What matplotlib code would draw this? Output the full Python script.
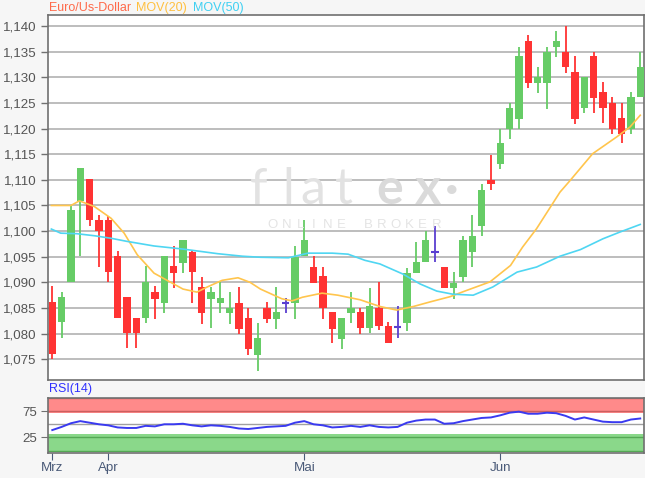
import matplotlib
matplotlib.use('Agg')
import matplotlib.pyplot as plt
import numpy as np

plt.rcParams['font.family'] = ['Liberation Sans', 'DejaVu Sans']

# ---------------- data ----------------
opens = [1.0861, 1.0822, 1.0901, 1.1058, 1.1101, 1.1022, 1.1022, 1.0952, 1.0871, 1.0831,
         1.0830, 1.0882, 1.0859, 1.0931, 1.0938, 1.0959, 1.0891, 1.0868, 1.0859, 1.0840,
         1.0860, 1.0830, 1.0759, 1.0850, 1.0829, 1.0860, 1.0860, 1.0951, 1.0930, 1.0912,
         1.0842, 1.0790, 1.0841, 1.0843, 1.0811, 1.0850, 1.0814, 1.0813, 1.0820, 1.0919,
         1.0939, 1.0959, 1.0930, 1.0889, 1.0910, 1.0960, 1.1009, 1.1100, 1.1130, 1.1200,
         1.1218, 1.1371, 1.1289, 1.1289, 1.1360, 1.1350, 1.1311, 1.1240, 1.1341, 1.1272,
         1.1250, 1.1220, 1.1200, 1.1261]
highs = [1.0893, 1.0882, 1.1050, 1.1123, 1.1101, 1.1032, 1.1030, 1.0961, 1.0871, 1.0831,
         1.0932, 1.0892, 1.0951, 1.0970, 1.0982, 1.0964, 1.0911, 1.0891, 1.0900, 1.0881,
         1.0891, 1.0850, 1.0820, 1.0862, 1.0891, 1.0870, 1.0970, 1.1022, 1.0951, 1.0930,
         1.0842, 1.0830, 1.0881, 1.0850, 1.0890, 1.0901, 1.0823, 1.0853, 1.0929, 1.0978,
         1.1001, 1.1009, 1.0930, 1.0920, 1.0991, 1.1031, 1.1091, 1.1149, 1.1200, 1.1250,
         1.1360, 1.1382, 1.1321, 1.1360, 1.1390, 1.1400, 1.1341, 1.1301, 1.1350, 1.1291,
         1.1262, 1.1249, 1.1272, 1.1350]
lows = [1.0750, 1.0791, 1.0901, 1.0952, 1.1010, 1.0930, 1.0900, 1.0830, 1.0772, 1.0772,
        1.0820, 1.0829, 1.0840, 1.0889, 1.0919, 1.0859, 1.0819, 1.0811, 1.0840, 1.0819,
        1.0800, 1.0758, 1.0728, 1.0820, 1.0810, 1.0841, 1.0829, 1.0951, 1.0899, 1.0829,
        1.0781, 1.0771, 1.0821, 1.0800, 1.0801, 1.0808, 1.0781, 1.0791, 1.0805, 1.0919,
        1.0939, 1.0939, 1.0890, 1.0867, 1.0900, 1.0930, 1.0990, 1.1080, 1.1122, 1.1179,
        1.1200, 1.1279, 1.1270, 1.1239, 1.1340, 1.1309, 1.1208, 1.1231, 1.1231, 1.1210,
        1.1190, 1.1171, 1.1190, 1.1261]
closes = [1.0760, 1.0871, 1.1041, 1.1123, 1.1021, 1.1001, 1.0921, 1.0830, 1.0801, 1.0801,
          1.0900, 1.0868, 1.0951, 1.0919, 1.0982, 1.0920, 1.0840, 1.0881, 1.0870, 1.0850,
          1.0809, 1.0771, 1.0791, 1.0829, 1.0842, 1.0860, 1.0949, 1.0982, 1.0899, 1.0851,
          1.0810, 1.0830, 1.0851, 1.0811, 1.0853, 1.0814, 1.0781, 1.0813, 1.0919, 1.0939,
          1.0982, 1.0959, 1.0890, 1.0898, 1.0982, 1.0991, 1.1080, 1.1091, 1.1171, 1.1241,
          1.1341, 1.1289, 1.1301, 1.1350, 1.1371, 1.1321, 1.1218, 1.1301, 1.1260, 1.1240,
          1.1200, 1.1190, 1.1262, 1.1321]

ma20_x = [-0.1, 2.0, 2.9, 4.5, 6.3, 7.7, 9.1, 10.9, 12.3, 14.0, 15.5, 16.6, 18.2, 19.9,
          21.2, 22.3, 24.6, 25.7, 26.8, 28.9, 30.6, 33.0, 35.1, 36.9, 38.7, 40.5, 42.6,
          44.2, 46.9, 49.1, 50.4, 51.9, 54.4, 55.5, 57.9, 60.5, 61.9, 63.0]
ma20_y = [1.1050, 1.1050, 1.1059, 1.1048, 1.1025, 1.0996, 1.0954, 1.0918, 1.0904, 1.0887,
          1.0881, 1.0891, 1.0904, 1.0909, 1.0900, 1.0887, 1.0868, 1.0864, 1.0871, 1.0879,
          1.0875, 1.0866, 1.0853, 1.0846, 1.0853, 1.0862, 1.0872, 1.0883, 1.0901, 1.0933,
          1.0969, 1.1005, 1.1076, 1.1099, 1.1151, 1.1184, 1.1203, 1.1226]

ma50_x = [-0.1, 0.9, 2.6, 4.5, 6.3, 8.0, 10.9, 14.0, 17.7, 20.4, 22.3, 25.3, 27.4, 30.0,
          31.7, 33.5, 35.1, 37.6, 39.4, 41.2, 42.9, 45.1, 47.2, 49.8, 51.9, 54.4, 56.6,
          59.0, 60.8, 63.0]
ma50_y = [1.1004, 1.0996, 1.0995, 1.0991, 1.0986, 1.0980, 1.0971, 1.0965, 1.0956, 1.0951,
          1.0949, 1.0948, 1.0957, 1.0957, 1.0955, 1.0943, 1.0936, 1.0916, 1.0897, 1.0883,
          1.0877, 1.0875, 1.0891, 1.0920, 1.0930, 1.0951, 1.0964, 1.0985, 1.0998, 1.1013]

rsi = [39, 45, 52, 56, 53, 50, 48, 44, 43, 43, 47, 46, 50, 50, 51, 48, 46, 48, 47, 45,
       42, 41, 43, 45, 46, 47, 53, 56, 50, 48, 44, 45, 47, 45, 48, 45, 44, 45, 53, 57,
       59, 59, 51, 52, 56, 59, 62, 63, 67, 72, 74, 70, 70, 72, 71, 66, 59, 63, 59, 55,
       54, 54, 59, 61]

month_pos = [0, 6, 27, 48]
month_labels = ['Mrz', 'Apr', 'Mai', 'Jun']
price_ticks = [1.075, 1.080, 1.085, 1.090, 1.095, 1.100, 1.105, 1.110, 1.115,
               1.120, 1.125, 1.130, 1.135, 1.140]

# ---------------- figure ----------------
W, H = 645, 478
fig = plt.figure(figsize=(W / 100, H / 100), dpi=100, facecolor='#f6f6f6')
ax = fig.add_axes([48 / W, 1 - 380 / H, 595.5 / W, 365 / H])
rx = fig.add_axes([48 / W, 1 - 452.7 / H, 595.5 / W, 55 / H])

GREEN = '#66cc66'
RED = '#ff3333'
BLUE = '#5a3fd0'
GRID = '#ababab'
SPINE = '#707070'
LABEL = '#555555'

o = np.array(opens); h = np.array(highs); l = np.array(lows); c = np.array(closes)
x = np.arange(len(o))
cols = np.where(c > o, GREEN, np.where(c < o, RED, BLUE))

ax.set_facecolor('white')
for v in price_ticks:
    ax.axhline(v, color=GRID, lw=1.1, zorder=1)

# watermark (figure pixel positions)
wm_letters = ['f', 'l', 'a', 't', 'e', 'x', '\u00b7']
wm_px = [259, 288, 313, 344, 390, 428, 452]
wm_col = ['#e2e2e2', '#e2e2e2', '#e2e2e2', '#e2e2e2', '#dadada', '#dadada', '#dadada']
wm_wt = ['normal', 'normal', 'normal', 'normal', 'bold', 'bold', 'bold']
for ch, px, cl, wt in zip(wm_letters, wm_px, wm_col, wm_wt):
    fig.text(px / W, 1 - 204 / H, ch, ha='center', va='baseline', fontsize=36,
             color=cl, fontweight=wt, family=['Lato', 'DejaVu Sans'], zorder=0.5)
sub = 'ONLINE BROKER'
for i, ch in enumerate(sub):
    if ch != ' ':
        fig.text((273 + i * 13.6) / W, 1 - 225 / H, ch, ha='center', va='center',
                 fontsize=9.5, color='#e4e4e4', zorder=0.5)

ax.vlines(x, l, h, colors=cols, lw=1.3, zorder=3)
nd = c != o
ax.bar(x[nd], np.abs(c - o)[nd], bottom=np.minimum(o, c)[nd], width=0.78,
       color=cols[nd], zorder=4, linewidth=0)
dj = ~nd
ax.hlines(c[dj], x[dj] - 0.39, x[dj] + 0.39, colors=BLUE, lw=1.5, zorder=4)

ax.plot(ma20_x, ma20_y, color='#ffc54d', lw=1.2, zorder=5)
ax.plot(ma50_x, ma50_y, color='#4fd6f2', lw=1.2, zorder=5)

ax.set_xlim(-0.46, 63.35)
ax.set_ylim(1.07096, 1.14215)
ax.set_yticks(price_ticks)
ax.set_yticklabels([f'{v:.3f}'.replace('.', ',') for v in price_ticks])
ax.set_xticks([])
ax.tick_params(axis='y', length=5, width=1, color=SPINE, labelcolor=LABEL, labelsize=9.6, pad=3)
for s in ax.spines.values():
    s.set_color(SPINE)
    s.set_linewidth(1.2)

# title texts
fig.text(49 / W, 1 - 8 / H, 'Euro/Us-Dollar', color='#ff6a4a', fontsize=9, va='center', ha='left')
fig.text(136 / W, 1 - 8 / H, 'MOV(20)', color='#ffc040', fontsize=9, va='center', ha='left')
fig.text(193 / W, 1 - 8 / H, 'MOV(50)', color='#40d0f2', fontsize=9, va='center', ha='left')

# ---------------- RSI panel ----------------
rx.set_facecolor('white')
rx.axhspan(71, 100, color='#ff8a8a', zorder=1, lw=0)
rx.axhspan(0, 31, color='#8ad88a', zorder=1, lw=0)
rx.axhline(100, color='#cc5f5f', lw=1.0, zorder=2)
rx.axhline(75, color='#cc5f5f', lw=1.0, zorder=2)
rx.axhline(25, color='#55a855', lw=1.0, zorder=2)
rx.axhline(0, color='#55a855', lw=1.0, zorder=2)
rx.axhline(50, color='#a0a0a0', lw=1.0, zorder=2)
rx.plot(x, rsi, color='#3a3af0', lw=1.4, zorder=3)
rx.set_xlim(-0.46, 63.35)
rx.set_ylim(-4, 100.5)
rx.set_yticks([25, 75])
rx.set_yticklabels(['25', '75'])
rx.set_xticks(month_pos)
rx.set_xticklabels(month_labels)
rx.tick_params(axis='y', length=5, color=SPINE, labelcolor=LABEL, labelsize=9.6, pad=3)
rx.tick_params(axis='x', length=5, color='#4a5a78', labelcolor='#4a5a78', labelsize=9.6, pad=2)
for s in rx.spines.values():
    s.set_color(SPINE)
    s.set_linewidth(1.2)
fig.text(49 / W, 1 - 389 / H, 'RSI(14)', color='#3030ff', fontsize=9, va='center', ha='left')

fig.savefig('out.png', dpi=100, facecolor=fig.get_facecolor())
